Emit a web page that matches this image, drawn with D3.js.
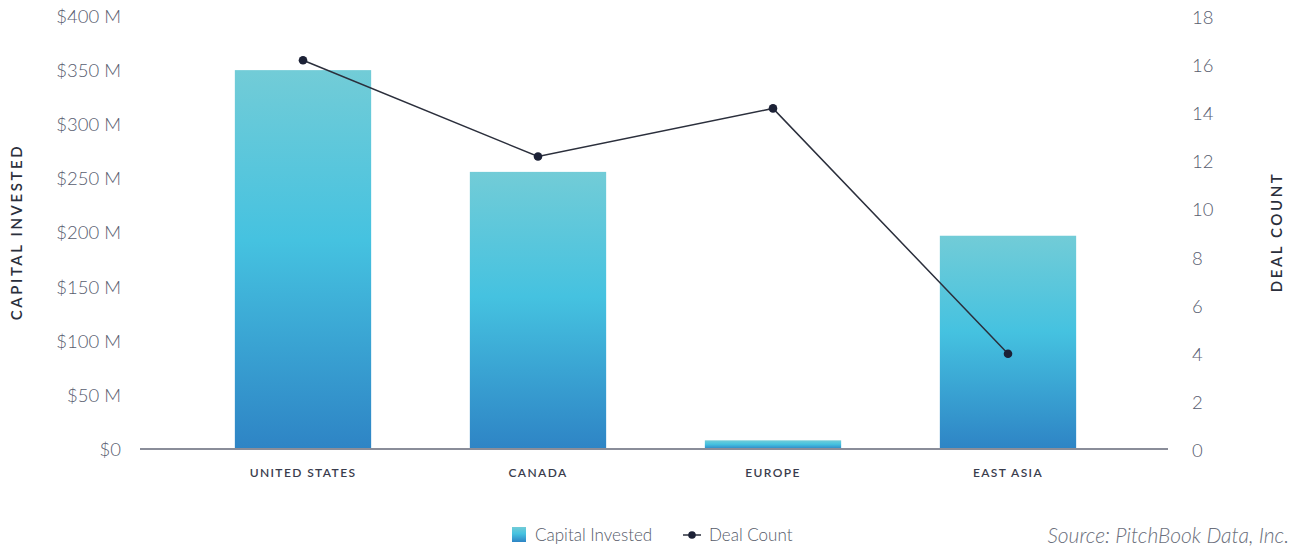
<!DOCTYPE html>
<html><head><meta charset="utf-8">
<script src="https://cdn.jsdelivr.net/npm/d3@7"></script>
<style>
body{margin:0;background:#fff;}
text{font-family:Lato,"Open Sans",sans-serif;}
</style></head>
<body><svg id="c" width="1293" height="546"></svg>
<script>
const categories = ["UNITED STATES","CANADA","EUROPE","EAST ASIA"];
const capitalInvested = [350, 256, 8, 197];
const dealCount = [16.2, 12.2, 14.2, 4.0];
const leftTicks = [0,50,100,150,200,250,300,350,400];
const rightTicks = [0,2,4,6,8,10,12,14,16,18];

const svg = d3.select("#c");
const defs = svg.append("defs");
const g = defs.append("linearGradient").attr("id","bg").attr("x1",0).attr("y1",0).attr("x2",0).attr("y2",1);
g.append("stop").attr("offset","0%").attr("stop-color","#72ccd7");
g.append("stop").attr("offset","45%").attr("stop-color","#45c2e0");
g.append("stop").attr("offset","100%").attr("stop-color","#2e84c5");

const x = d3.scaleBand().domain(categories).range([185.5,1125.5]).paddingInner(0.42).paddingOuter(0.21);
const yL = d3.scaleLinear().domain([0,400]).range([449,16]);
const yR = d3.scaleLinear().domain([0,18]).range([450,17]);

// bars
svg.append("g").selectAll("rect").data(categories).join("rect")
  .attr("x",d=>x(d)).attr("width",x.bandwidth())
  .attr("y",(d,i)=>yL(capitalInvested[i]))
  .attr("height",(d,i)=>yL(0)-yL(capitalInvested[i]))
  .attr("fill","url(#bg)");

// baseline
svg.append("line").attr("x1",140).attr("x2",1168).attr("y1",yL(0)).attr("y2",yL(0))
  .attr("stroke","#8a8d99").attr("stroke-width",2);

// left axis
const la = svg.append("g").attr("transform","translate(121,0)")
  .call(d3.axisLeft(yL).tickValues(leftTicks).tickSize(0).tickPadding(0)
    .tickFormat(d=>d===0?"$0":"$"+d+" M"));
la.select(".domain").remove();
la.selectAll("text").attr("font-size",18.5).attr("font-weight",300).attr("fill","#585d6f").attr("font-family","Lato").attr("dy","0.35em");

// right axis
const ra = svg.append("g").attr("transform","translate(1192,0)")
  .call(d3.axisRight(yR).tickValues(rightTicks).tickSize(0).tickPadding(0));
ra.select(".domain").remove();
ra.selectAll("text").attr("font-size",18.5).attr("font-weight",300).attr("fill","#585d6f").attr("font-family","Lato").attr("dy","0.35em");

// x axis labels
const xa = svg.append("g").attr("transform","translate(0,449)")
  .call(d3.axisBottom(x).tickSize(0).tickPadding(0));
xa.select(".domain").remove();
xa.selectAll("text").attr("y",24).attr("dy","0.35em").attr("font-size",12).attr("font-weight",600)
  .attr("letter-spacing","1.4px").attr("fill","#3a3d4d").attr("font-family","Lato");

// axis titles
svg.append("text").attr("transform","translate(22,232) rotate(-90)").attr("text-anchor","middle")
  .attr("font-size",15).attr("font-weight",600).attr("letter-spacing","2.6px").attr("fill","#2b2f3c")
  .text("CAPITAL INVESTED");
svg.append("text").attr("transform","translate(1282,232) rotate(-90)").attr("text-anchor","middle")
  .attr("font-size",15).attr("font-weight",600).attr("letter-spacing","2.6px").attr("fill","#2b2f3c")
  .text("DEAL COUNT");

// line
const cx = d=>x(d)+x.bandwidth()/2;
const line = d3.line().x((d,i)=>cx(categories[i])).y(d=>yR(d));
svg.append("path").datum(dealCount).attr("d",line).attr("fill","none")
  .attr("stroke","#2b2f3c").attr("stroke-width",1.5);
svg.append("g").selectAll("circle").data(dealCount).join("circle")
  .attr("cx",(d,i)=>cx(categories[i])).attr("cy",d=>yR(d)).attr("r",4.3).attr("fill","#1c2136");

// legend
const lg = svg.append("g");
lg.append("rect").attr("x",512).attr("y",527).attr("width",14).attr("height",15).attr("fill","url(#bg)");
lg.append("text").attr("x",535).attr("y",535).attr("dy","0.35em").attr("font-size",17).attr("font-weight",300).attr("fill","#555a68").text("Capital Invested");
lg.append("line").attr("x1",683).attr("x2",701).attr("y1",535).attr("y2",535).attr("stroke","#2b2f3c").attr("stroke-width",1.5);
lg.append("circle").attr("cx",692).attr("cy",535).attr("r",3.8).attr("fill","#1c2136");
lg.append("text").attr("x",709).attr("y",535).attr("dy","0.35em").attr("font-size",17).attr("font-weight",300).attr("fill","#555a68").text("Deal Count");

svg.append("text").attr("x",1289).attr("y",536).attr("dy","0.35em").attr("text-anchor","end")
  .attr("font-size",21).attr("font-weight",300).attr("font-style","italic").attr("fill","#6b6f7c").text("Source: PitchBook Data, Inc.");
</script></body></html>
